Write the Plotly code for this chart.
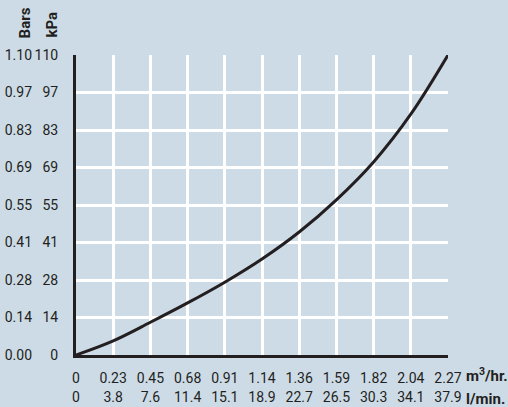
import plotly.graph_objects as go

# Flow (m3/hr) tick values and labels
flow_ticks = [0, 0.227, 0.454, 0.681, 0.908, 1.135, 1.362, 1.589, 1.816, 2.043, 2.27]
flow_m3hr_labels = ["0", "0.23", "0.45", "0.68", "0.91", "1.14", "1.36", "1.59", "1.82", "2.04", "2.27"]
flow_lmin_labels = ["0", "3.8", "7.6", "11.4", "15.1", "18.9", "22.7", "26.5", "30.3", "34.1", "37.9"]

# Pressure drop tick values and labels
kpa_ticks = [0, 13.75, 27.5, 41.25, 55, 68.75, 82.5, 96.25, 110]
kpa_labels = ["0", "14", "28", "41", "55", "69", "83", "97", "110"]
bar_labels = ["0.00", "0.14", "0.28", "0.41", "0.55", "0.69", "0.83", "0.97", "1.10"]

# Curve
curve_flow = [0, 0.227, 0.454, 0.681, 0.908, 1.135, 1.362, 1.589, 1.816, 2.043, 2.27]
curve_kpa = [0, 5.2, 12.0, 19.1, 26.7, 35.2, 45.1, 56.9, 70.8, 88.3, 110]

BG = "rgb(205,219,231)"
INK = "#231f20"
FONT = "Roboto, Liberation Sans, sans-serif"

fig = go.Figure()
fig.add_trace(go.Scatter(x=curve_flow, y=curve_kpa, mode="lines",
                         line=dict(color=INK, width=3, shape="spline", smoothing=1.0),
                         hoverinfo="skip", showlegend=False))
fig.add_trace(go.Scatter(x=curve_flow, y=curve_kpa, mode="lines", xaxis="x2", yaxis="y2",
                         line=dict(color="rgba(0,0,0,0)", width=0),
                         hoverinfo="skip", showlegend=False))

tickfont = dict(family=FONT, size=14, color=INK)

fig.update_layout(
    width=508, height=407,
    paper_bgcolor=BG, plot_bgcolor=BG,
    margin=dict(l=76, r=60, t=55, b=52, autoexpand=False),
    font=dict(family=FONT, color=INK),
    xaxis=dict(range=[0, 2.27], tickvals=flow_ticks, ticktext=flow_m3hr_labels,
               showgrid=True, gridcolor="white", gridwidth=3,
               showline=True, linecolor=INK, linewidth=3, zeroline=False,
               ticks="", tickfont=tickfont, ticklabelstandoff=8,
               automargin=False, fixedrange=True),
    xaxis2=dict(range=[0, 2.27], tickvals=flow_ticks, ticktext=flow_lmin_labels,
                overlaying="x", side="bottom", anchor="y",
                showgrid=False, showline=False, zeroline=False,
                ticks="", tickfont=tickfont, ticklabelstandoff=32,
                automargin=False, fixedrange=True),
    yaxis=dict(range=[0, 110], tickvals=kpa_ticks, ticktext=kpa_labels,
               showgrid=True, gridcolor="white", gridwidth=3,
               showline=True, linecolor=INK, linewidth=3, zeroline=False,
               ticks="", tickfont=tickfont, ticklabelstandoff=12,
               automargin=False, fixedrange=True),
    yaxis2=dict(range=[0, 110], tickvals=kpa_ticks, ticktext=bar_labels,
                overlaying="y", side="left", anchor="x",
                showgrid=False, showline=False, zeroline=False,
                ticks="", tickfont=tickfont, ticklabelstandoff=43,
                automargin=False, fixedrange=True),
)

bold = dict(family=FONT, size=15, color=INK, weight="bold")
unitfont = dict(family=FONT, size=15, color=INK, weight="bold")
fig.add_annotation(text="Bars", textangle=-90, xref="paper", yref="paper",
                   x=-0.105, y=1.05, xanchor="right", yanchor="bottom",
                   showarrow=False, font=bold)
fig.add_annotation(text="kPa", textangle=-90, xref="paper", yref="paper",
                   x=-0.036, y=1.05, xanchor="right", yanchor="bottom",
                   showarrow=False, font=bold)
fig.add_annotation(text="m<sup>3</sup>/hr.", xref="paper", yref="paper",
                   x=1.043, y=-0.067, xanchor="left", yanchor="middle",
                   showarrow=False, font=unitfont)
fig.add_annotation(text="l/min.", xref="paper", yref="paper",
                   x=1.043, y=-0.145, xanchor="left", yanchor="middle",
                   showarrow=False, font=unitfont)

fig.write_html("out.html", config={"displayModeBar": False},
               post_script="document.body.style.margin='0';")
